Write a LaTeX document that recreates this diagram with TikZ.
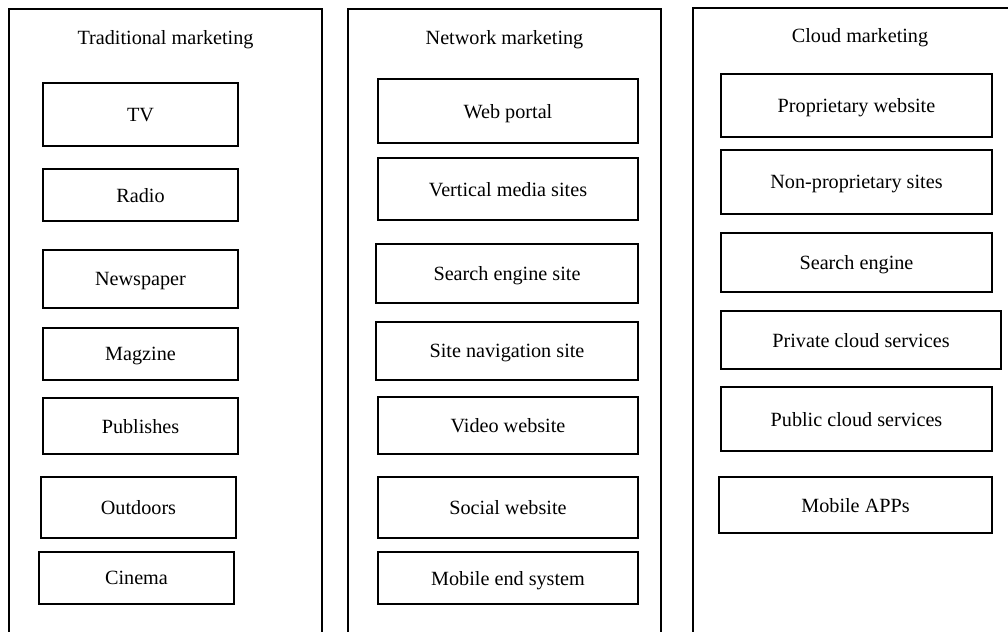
\documentclass[tikz,border=0pt]{standalone}
\usepackage{fontspec}
\setmainfont{Liberation Serif}
\begin{document}
\begin{tikzpicture}[x=0.5pt,y=-0.5pt,
    frame/.style={line width=0.8pt},
    head/.style={font=\fontsize{10.1}{12}\selectfont},
    item/.style={draw,line width=0.8pt,inner sep=0pt,text depth=0pt,font=\fontsize{10.1}{12}\selectfont}]
  \useasboundingbox (0,0) rectangle (1008,632);
  \clip (0,0) rectangle (1008,632);
  % the three columns, open at the bottom
  \draw[frame] (9,640) -- (9,9) -- (322,9) -- (322,640);
  \draw[frame] (348,640) -- (348,9) -- (661,9) -- (661,640);
  \draw[frame] (693,640) -- (693,8) -- (1020,8);
  \node[head] (trad) at (165.5,40) {Traditional marketing};
  \node[head] (net) at (504.5,40) {Network marketing};
  \node[head] (cloud) at (860,38) {Cloud marketing};
  \foreach [count=\i] \l/\t/\r/\b/\txt in {
    43/83/238/146/TV, 43/169/238/221/Radio,
    43/250/238/308/Newspaper, 43/328/238/380/Magzine,
    43/398/238/454/Publishes, 41/477/236/538/Outdoors,
    39/552/234/604/Cinema}
    \node[item,minimum width={(\r-\l)*0.5pt},minimum height={(\b-\t)*0.5pt}]
      (trad\i) at ({(\l+\r)/2},{(\t+\b)/2}) {\txt};
  \foreach [count=\i] \l/\t/\r/\b/\txt in {
    378/79/638/143/Web portal, 378/158/638/220/Vertical media sites,
    376/244/638/303/Search engine site, 376/322/638/380/Site navigation site,
    378/397/638/454/Video website, 378/477/638/538/Social website,
    378/552/638/604/Mobile end system}
    \node[item,minimum width={(\r-\l)*0.5pt},minimum height={(\b-\t)*0.5pt}]
      (net\i) at ({(\l+\r)/2},{(\t+\b)/2}) {\txt};
  \foreach [count=\i] \l/\t/\r/\b/\txt in {
    721/74/992/137/Proprietary website, 721/150/992/214/Non-proprietary sites,
    721/233/992/292/Search engine, 721/311/1001/369/Private cloud services,
    721/387/992/451/Public cloud services, 719/477/992/533/Mobile APPs}
    \node[item,minimum width={(\r-\l)*0.5pt},minimum height={(\b-\t)*0.5pt}]
      (cloud\i) at ({(\l+\r)/2},{(\t+\b)/2}) {\txt};
\end{tikzpicture}
\end{document}
